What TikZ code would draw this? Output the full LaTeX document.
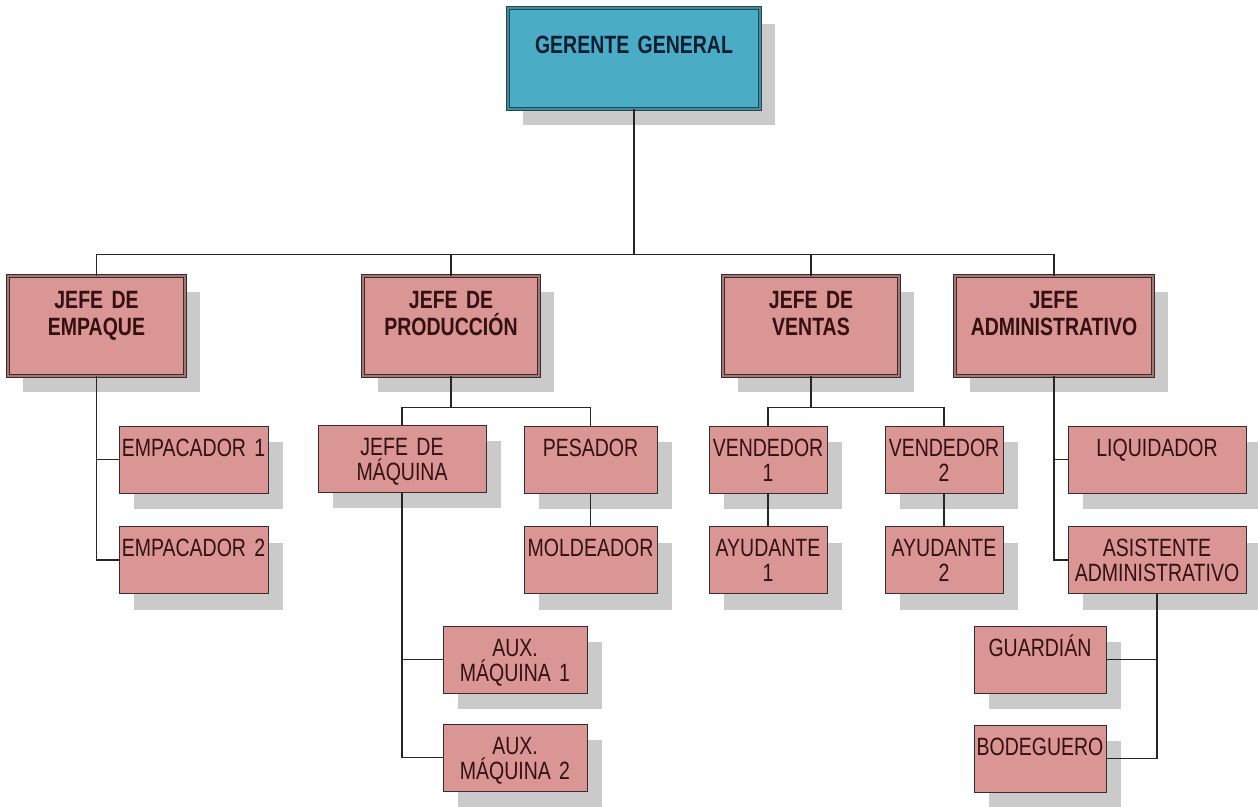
\documentclass[tikz,border=0pt]{standalone}
\usepackage{fontspec}
\setmainfont{Liberation Sans}[FakeStretch=0.78]
\usetikzlibrary{shadows}
\definecolor{pinkfill}{RGB}{217, 150, 148}
\definecolor{pinkedge}{RGB}{58, 44, 44}
\definecolor{pinkgap}{RGB}{165, 120, 118}
\definecolor{tealfill}{RGB}{75, 172, 198}
\definecolor{tealedge}{RGB}{40, 70, 80}
\definecolor{tealgap}{RGB}{62, 140, 160}
\definecolor{maroontext}{RGB}{52, 16, 16}
\definecolor{navytext}{RGB}{14, 30, 48}
\definecolor{shadowgray}{RGB}{202, 202, 202}
\newcommand{\orgsize}[1]{\fontsize{25}{#1}\selectfont\spaceskip=5.2pt plus 1pt\relax}

\begin{document}
\begin{tikzpicture}[x=1pt, y=-1pt,
  every node/.style={inner xsep=0pt, inner ysep=0pt, align=center},
  shade/.style={drop shadow={fill=shadowgray, opacity=1, shadow xshift=15pt, shadow yshift=-16pt}},
  head/.style={shade, fill=tealfill, draw=tealedge, double=tealgap, double distance=1.6pt, line width=0.8pt, text=navytext, font=\orgsize{26}\bfseries, text height=45pt, text depth=56pt},
  chief/.style={shade, fill=pinkfill, draw=pinkedge, double=pinkgap, double distance=1.6pt, line width=0.8pt, text=maroontext, font=\orgsize{27}\bfseries, text height=32pt, text depth=68pt},
  staff/.style={shade, fill=pinkfill, draw=pinkedge, line width=0.8pt, text=maroontext, font=\orgsize{25}, text height=30pt, text depth=37pt},
  link/.style={line width=1.1pt, draw=black!85}]
\useasboundingbox (0,0) rectangle (1258,806);
% top
\node (ger) [head, text width=252pt] at (634, 58.5) {GERENTE GENERAL};
% chiefs
\node (emp) [chief, text width=177pt] at (96.5, 326) {JEFE DE\\EMPAQUE};
\node (prod) [chief, text width=176pt] at (451, 326) {JEFE DE\\PRODUCCIÓN};
\node (vent) [chief, text width=176pt] at (811, 326) {JEFE DE\\VENTAS};
\node (adm) [chief, text width=198pt] at (1054, 326) {JEFE\\ADMINISTRATIVO};
% staff
\node (emp1) [staff, text width=149pt] at (193.5, 459.5) {EMPACADOR 1};
\node (emp2) [staff, text width=149pt] at (193.5, 560) {EMPACADOR 2};
\node (maq) [staff, text width=168pt] at (402, 458.5) {JEFE DE\\MÁQUINA};
\node (pes) [staff, text width=133pt] at (590.5, 459.5) {PESADOR};
\node (mold) [staff, text width=133pt] at (590.5, 560) {MOLDEADOR};
\node (aux1) [staff, text width=144pt] at (515, 659.5) {AUX.\\MÁQUINA 1};
\node (aux2) [staff, text width=144pt] at (515, 757.5) {AUX.\\MÁQUINA 2};
\node (ven1) [staff, text width=118pt] at (768, 459.5) {VENDEDOR\\1};
\node (ven2) [staff, text width=118pt] at (944, 459.5) {VENDEDOR\\2};
\node (ayu1) [staff, text width=118pt] at (768, 560) {AYUDANTE\\1};
\node (ayu2) [staff, text width=118pt] at (944, 560) {AYUDANTE\\2};
\node (liq) [staff, text width=178pt] at (1157, 459.5) {LIQUIDADOR};
\node (asis) [staff, text width=178pt] at (1157, 560) {ASISTENTE\\ADMINISTRATIVO};
\node (guar) [staff, text width=132pt] at (1040, 659.5) {GUARDIÁN};
\node (bod) [staff, text width=132pt] at (1040, 758.5) {BODEGUERO};
% links
\draw [link] (ger.south) -- ++(0, 145.5) -| (emp.north);
\draw [link] (ger.south) -- ++(0, 145.5) -| (prod.north);
\draw [link] (ger.south) -- ++(0, 145.5) -| (vent.north);
\draw [link] (ger.south) -- ++(0, 145.5) -| (adm.north);
\draw [link] (emp.south) |- (emp1.west);
\draw [link] (emp.south) |- (emp2.west);
\draw [link] (prod.south) -- ++(0, 31) -| (maq.north);
\draw [link] (prod.south) -- ++(0, 31) -| (pes.north);
\draw [link] (pes.south) -- (mold.north);
\draw [link] (maq.south) |- (aux1.west);
\draw [link] (maq.south) |- (aux2.west);
\draw [link] (vent.south) -- ++(0, 31) -| (ven1.north);
\draw [link] (vent.south) -- ++(0, 31) -| (ven2.north);
\draw [link] (ven1.south) -- (ayu1.north);
\draw [link] (ven2.south) -- (ayu2.north);
\draw [link] (adm.south) |- (liq.west);
\draw [link] (adm.south) |- (asis.west);
\draw [link] (asis.south) |- (guar.east);
\draw [link] (asis.south) |- (bod.east);
\end{tikzpicture}
\end{document}
